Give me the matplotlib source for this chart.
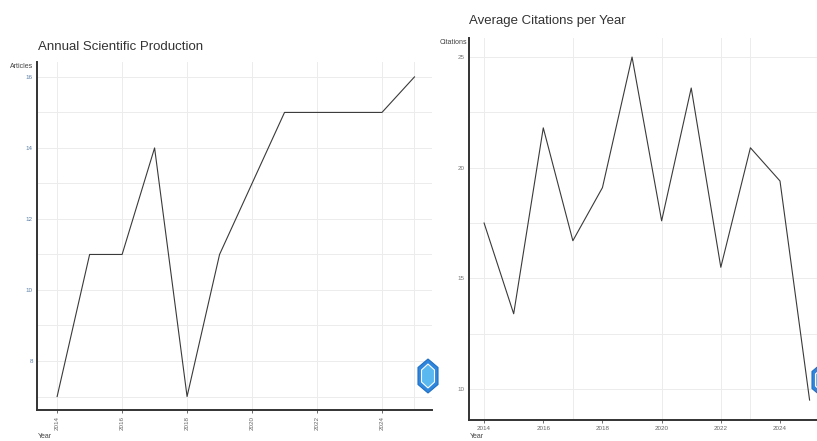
import matplotlib.pyplot as plt
from matplotlib.patches import Polygon

# values
years = list(range(2014, 2026))
articles = [7, 11, 11, 14, 7, 11, 13, 15, 15, 15, 15, 16]
avg_citations = [17.5, 13.4, 21.8, 16.7, 19.1, 25.0, 17.6, 23.6, 15.5, 20.9, 19.4, 9.5]
year_ticks = [2014, 2016, 2018, 2020, 2022, 2024]
article_ticks = [8, 10, 12, 14, 16]
citation_ticks = [10, 15, 20, 25]

plt.rcParams['font.family'] = ['Liberation Sans Narrow', 'Liberation Sans', 'DejaVu Sans']

W, H = 817, 441
fig = plt.figure(figsize=(W / 100, H / 100), dpi=100)


def px_axes(x0, y0, x1, y1):
    # axes box given in image pixels (top-left origin)
    return fig.add_axes([x0 / W, 1 - y1 / H, (x1 - x0) / W, (y1 - y0) / H])


def style(ax, ycol):
    for s in ['top', 'right']:
        ax.spines[s].set_visible(False)
    for s in ['left', 'bottom']:
        ax.spines[s].set_linewidth(1.4)
        ax.spines[s].set_color('#333333')
    ax.tick_params(axis='y', length=0, labelsize=4.5, labelcolor=ycol, pad=3)
    ax.tick_params(axis='x', length=2.5, width=0.6, color='#555555',
                   labelsize=4.5, labelcolor='#666666', pad=2)


def logo(cx, cy):
    def pts(w, h):
        return [((cx + dx) / W, 1 - (cy + dy) / H) for dx, dy in
                [(0, -h), (w, -h * 0.5), (w, h * 0.5), (0, h), (-w, h * 0.5), (-w, -h * 0.5)]]
    fig.patches.append(Polygon(pts(10, 17), closed=True, transform=fig.transFigure,
                               facecolor='#2f86dd', edgecolor='#1e6fc4', lw=0.8))
    fig.patches.append(Polygon(pts(6.5, 12), closed=True, transform=fig.transFigure,
                               facecolor='#5ab8f0', edgecolor='white', lw=0.8))


# --- Annual Scientific Production
ax1 = px_axes(37, 62, 432, 410)
for v in range(7, 17):
    ax1.axhline(v, color='#ececec', lw=0.7, zorder=0)
for yr in year_ticks + [2025]:
    ax1.axvline(yr, color='#ececec', lw=0.7, zorder=0)
ax1.plot(years, articles, color='#3a3a3a', lw=0.8)
ax1.set_xlim(2013.38, 2025.54)
ax1.set_ylim(6.62, 16.42)
ax1.set_xticks(year_ticks)
ax1.set_xticklabels([str(y) for y in year_ticks], rotation=90)
ax1.set_yticks(article_ticks)
style(ax1, '#5b7fa6')

fig.text(38 / W, 1 - 47 / H, 'Annual Scientific Production', fontsize=9.5,
         color='#333333', va='center', ha='left')
fig.text(10 / W, 1 - 66 / H, 'Articles', fontsize=5, color='#444444', va='center')
fig.text(38 / W, 1 - 437 / H, 'Year', fontsize=5, color='#444444', va='center')

# --- Average Citations per Year
ax2 = px_axes(469, 38, 830, 420)
for v in [10, 12.5, 15, 17.5, 20, 22.5, 25]:
    ax2.axhline(v, color='#ececec', lw=0.7, zorder=0)
for yr in [2014, 2017, 2020, 2022, 2023]:
    ax2.axvline(yr, color='#ececec', lw=0.7, zorder=0)
ax2.plot(years, avg_citations, color='#3a3a3a', lw=0.8)
ax2.set_xlim(2013.49, 2025.69)
ax2.set_ylim(8.6, 25.86)
ax2.set_xticks(year_ticks)
ax2.set_xticklabels([str(y) for y in year_ticks])
ax2.set_yticks(citation_ticks)
style(ax2, '#777777')

fig.text(469 / W, 1 - 21 / H, 'Average Citations per Year', fontsize=9.5,
         color='#333333', va='center', ha='left')
fig.text(440 / W, 1 - 43 / H, 'Citations', fontsize=5, color='#444444', va='center')
fig.text(470 / W, 1 - 437 / H, 'Year', fontsize=5, color='#444444', va='center')

logo(428, 376)
logo(822, 380)

fig.savefig('out.png', dpi=100)
